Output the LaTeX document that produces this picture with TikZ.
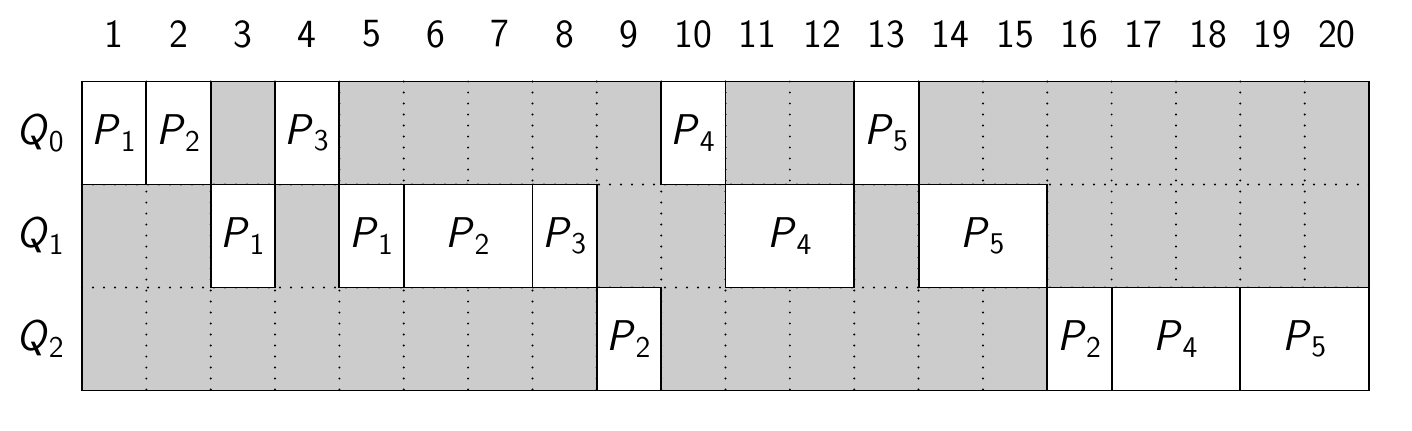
\documentclass[tikz,border=0pt]{standalone}
\usepackage{amsmath}
\usepackage{fontspec}
\newcommand\pl[1]{$\textsf{\textit{P}}_{\textsf{#1}}$}
\newcommand\ql[1]{$\textsf{\textit{Q}}_{\textsf{#1}}$}
\begin{document}
\begin{tikzpicture}[x=0.5pt,y=-0.5pt,
  pbox/.style={draw=black, fill=white, line width=0.95pt, inner sep=0pt,
    minimum height=51.5pt, font=\fontsize{21.5}{25}\selectfont},
  num/.style={font=\sffamily\fontsize{20}{24}\selectfont, inner sep=0pt},
  qlab/.style={font=\fontsize{21.5}{25}\selectfont, inner sep=0pt},
  gridline/.style={line width=1.1pt, line cap=round, dash pattern=on 0pt off 5.5pt},
  frame/.style={draw=black, line width=0.95pt}]
\useasboundingbox (0,0) rectangle (1412,430);
\def\xl{82}\def\cw{64.35}\def\yt{81.5}\def\rh{103}
% background
\fill[gray!40] (\xl,\yt) rectangle ({\xl+20*\cw},{\yt+3*\rh});
% dotted grid
\foreach \c in {1,...,19}
  \draw[gridline] ({\xl+\c*\cw},\yt) -- ({\xl+\c*\cw},{\yt+3*\rh});
\foreach \r in {1,2}
  \draw[gridline] (\xl,{\yt+\r*\rh}) -- ({\xl+20*\cw},{\yt+\r*\rh});
% column numbers
\foreach \c in {1,...,20}
  \node[num] (n\c) at ({\xl+(\c-0.5)*\cw},34) {\c};
% queue labels
\foreach \r in {0,1,2}
  \node[qlab] (q\r) at (40.5,{\yt+(\r+0.5)*\rh}) {\ql{\r}};
% process boxes: name, first column, number of columns, row, label
\newcommand\pbox[5]{%
  \node[pbox, minimum width={#3*32.175pt}] (#1) at ({\xl+(#2-1+#3/2)*\cw},{\yt+(#4+0.5)*\rh}) {\pl{#5}};}
\pbox{a1}{1}{1}{0}{1}
\pbox{a2}{2}{1}{0}{2}
\pbox{a3}{4}{1}{0}{3}
\pbox{a4}{10}{1}{0}{4}
\pbox{a5}{13}{1}{0}{5}
\pbox{b1}{3}{1}{1}{1}
\pbox{b2}{5}{1}{1}{1}
\pbox{b3}{6}{2}{1}{2}
\pbox{b4}{8}{1}{1}{3}
\pbox{b5}{11}{2}{1}{4}
\pbox{b6}{14}{2}{1}{5}
\pbox{c1}{9}{1}{2}{2}
\pbox{c2}{16}{1}{2}{2}
\pbox{c3}{17}{2}{2}{4}
\pbox{c4}{19}{2}{2}{5}
% outer frame
\draw[frame] (\xl,\yt) rectangle ({\xl+20*\cw},{\yt+3*\rh});
\end{tikzpicture}
\end{document}
